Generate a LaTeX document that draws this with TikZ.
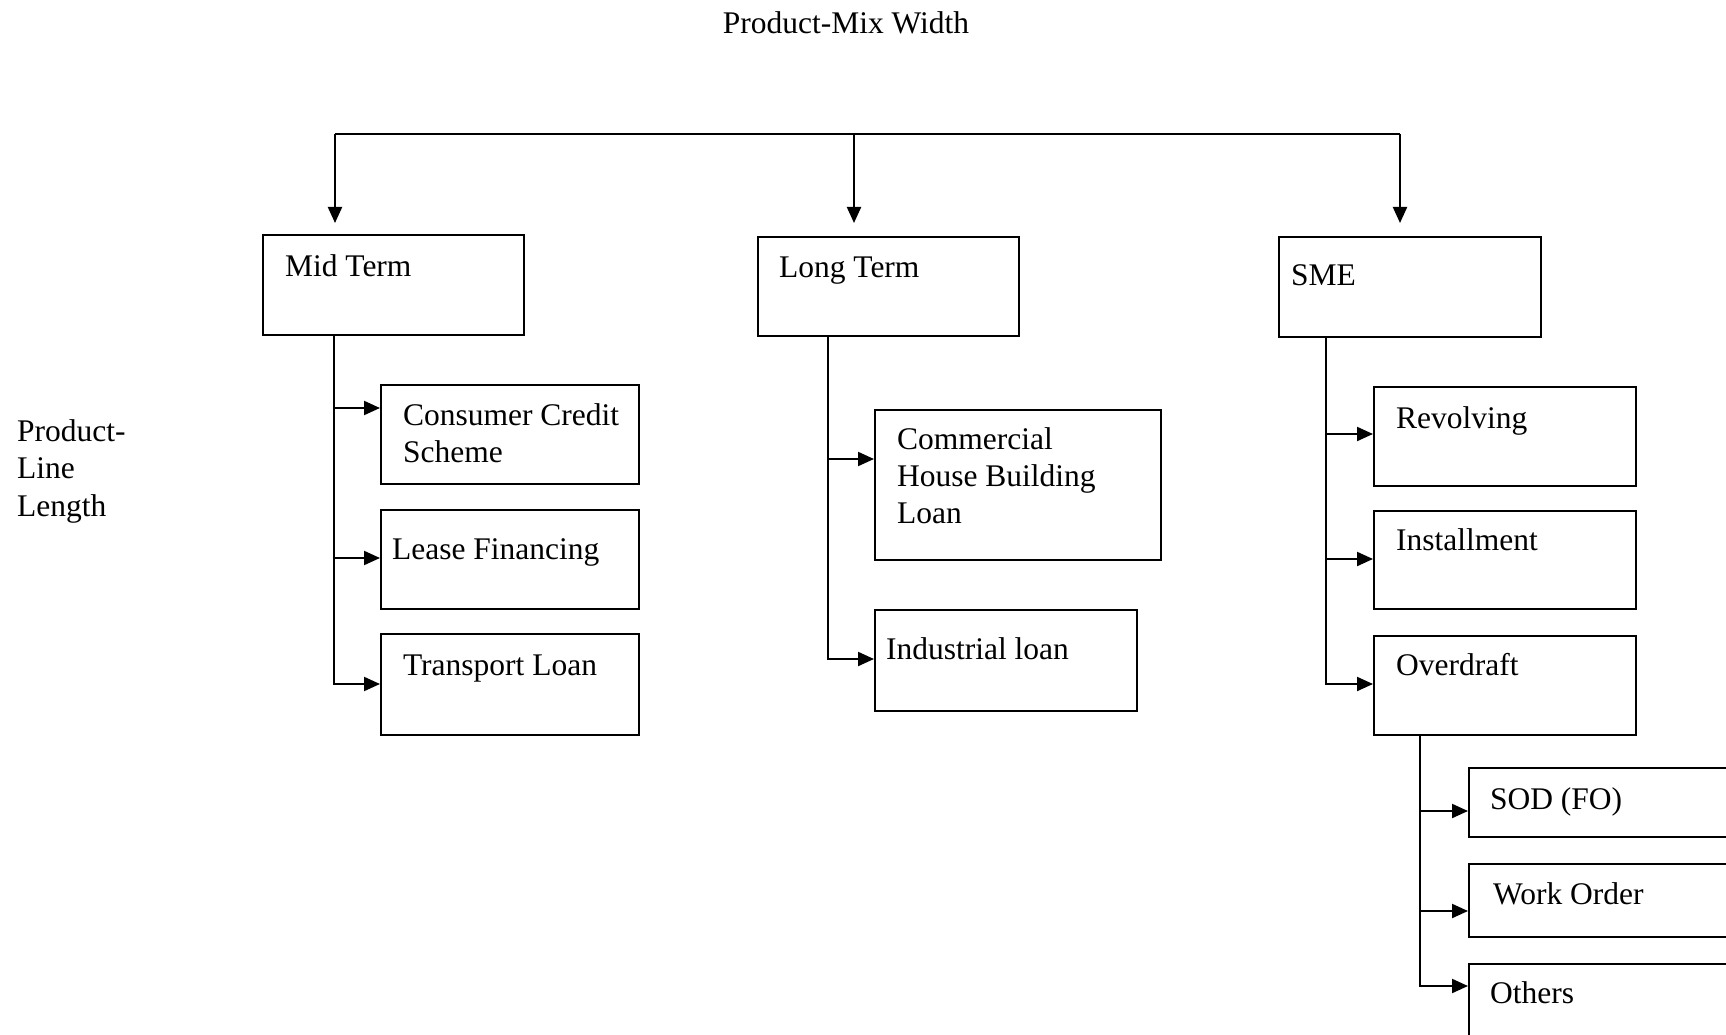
\documentclass[tikz,border=0pt]{standalone}
\usepackage{fontspec}
\setmainfont{Liberation Serif}
\usetikzlibrary{arrows.meta,calc}
\begin{document}
\begin{tikzpicture}[x=1pt,y=-1pt,
  line width=2.1pt,
  box/.style={draw, anchor=north west, inner sep=0pt, minimum width=#1},
  lbl/.style={anchor=base west, inner sep=0pt, align=left, font=\fontsize{31.5}{37.4}\selectfont},
  arr/.style={-{Triangle[length=16pt,width=14pt]}},
]
\clip (0,0) rectangle (1726,1035);
\fill[white] (0,0) rectangle (1726,1035);

% headings (multi-line labels are placed by the baseline of their last line)
\node[lbl, anchor=base] (width) at (846,34) {Product-Mix Width};
\node[lbl] (length) at (16,516) {Product-\\Line\\Length};

% first level
\node[box=261, minimum height=100] (mid)  at (262,234) {};
\node[box=261, minimum height=99]  (long) at (757,236) {};
\node[box=262, minimum height=100] (sme)  at (1278,236) {};
\node[lbl] (tmid)  at ($(mid.north west)+(22,42)$)  {Mid Term};
\node[lbl] (tlong) at ($(long.north west)+(21,41)$) {Long Term};
\node[lbl] (tsme)  at ($(sme.north west)+(12,49)$)  {SME};

% mid term products
\node[box=258, minimum height=99]  (ccs)   at (380,384) {};
\node[box=258, minimum height=99]  (lease) at (380,509) {};
\node[box=258, minimum height=101] (trans) at (380,633) {};
\node[lbl] (tccs)   at ($(ccs.north west)+(22,78.4)$) {Consumer Credit\\Scheme};
\node[lbl] (tlease) at ($(lease.north west)+(11,50)$) {Lease Financing};
\node[lbl] (ttrans) at ($(trans.north west)+(22,42)$) {Transport Loan};

% long term products
\node[box=286, minimum height=150] (chbl) at (874,409) {};
\node[box=262, minimum height=101] (ind)  at (874,609) {};
\node[lbl] (tchbl) at ($(chbl.north west)+(22,114.8)$) {Commercial\\House Building\\Loan};
\node[lbl] (tind)  at ($(ind.north west)+(11,50)$)  {Industrial loan};

% SME products
\node[box=262, minimum height=99] (rev)  at (1373,386) {};
\node[box=262, minimum height=98] (inst) at (1373,510) {};
\node[box=262, minimum height=99] (over) at (1373,635) {};
\node[lbl] (trev)  at ($(rev.north west)+(22,42)$)  {Revolving};
\node[lbl] (tinst) at ($(inst.north west)+(22,40)$) {Installment};
\node[lbl] (tover) at ($(over.north west)+(22,40)$) {Overdraft};

% overdraft types
\node[box=300, minimum height=69] (sod)  at (1468,767) {};
\node[box=300, minimum height=73] (work) at (1468,863) {};
\node[box=300, minimum height=75] (oth)  at (1468,963) {};
\node[lbl] (tsod)  at ($(sod.north west)+(21,42)$)  {SOD (FO)};
\node[lbl] (twork) at ($(work.north west)+(24,41)$) {Work Order};
\node[lbl] (toth)  at ($(oth.north west)+(21,40)$)  {Others};

% top distribution bus
\coordinate (busL) at (335,134);
\coordinate (busM) at (854,134);
\coordinate (busR) at (1400,134);
\draw (busL) -- (busR);
\draw[arr, shorten >=11pt] (busL) -- (busL |- mid.north);
\draw[arr, shorten >=13pt] (busM) -- (busM |- long.north);
\draw[arr, shorten >=13pt] (busR) -- (busR |- sme.north);

% branch trunks
\coordinate (mtr) at ($(mid.south west)+(72,0)$);
\coordinate (ltr) at ($(long.south west)+(71,0)$);
\coordinate (str) at ($(sme.south west)+(48,0)$);
\coordinate (otr) at ($(over.south west)+(47,0)$);

\draw[arr] (mtr) |- ($(ccs.north west)+(0,24)$);
\draw[arr] (mtr) |- ($(lease.north west)+(0,49)$);
\draw[arr] (mtr) |- ($(trans.north west)+(0,51)$);

\draw[arr] (ltr) |- ($(chbl.north west)+(0,50)$);
\draw[arr] (ltr) |- ($(ind.north west)+(0,50)$);

\draw[arr] (str) |- ($(rev.north west)+(0,48)$);
\draw[arr] (str) |- ($(inst.north west)+(0,49)$);
\draw[arr] (str) |- ($(over.north west)+(0,49)$);

\draw[arr] (otr) |- ($(sod.north west)+(0,44)$);
\draw[arr] (otr) |- ($(work.north west)+(0,48)$);
\draw[arr] (otr) |- ($(oth.north west)+(0,23)$);
\end{tikzpicture}
\end{document}
